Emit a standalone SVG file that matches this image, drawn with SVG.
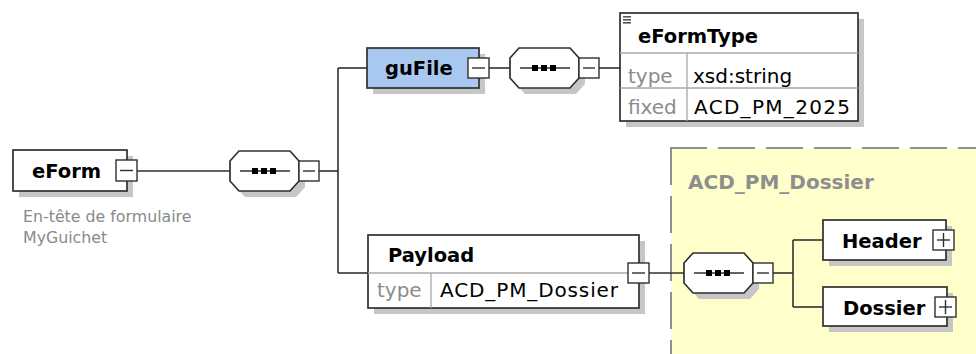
<svg xmlns="http://www.w3.org/2000/svg" width="976" height="354" viewBox="0 0 976 354">
<style>
.bg{fill:#ffffff}
.box{fill:#ffffff;stroke:#303030;stroke-width:1.7}
.blue{fill:#a8c8f0;stroke:#303030;stroke-width:1.7}
.sh{fill:#c6c6c6}
.div{stroke:#a8a8a8;stroke-width:1.3;fill:none}
.conn{stroke:#303030;stroke-width:1.6;fill:none}
.tog{fill:#ffffff;stroke:#303030;stroke-width:1.4}
.sign{stroke:#303030;stroke-width:1.4}
.b{font-family:"DejaVu Sans",sans-serif;font-weight:bold;font-size:19.5px;fill:#000}
.t{font-family:"DejaVu Sans",sans-serif;font-size:20px;fill:#000}
.g{font-family:"DejaVu Sans",sans-serif;font-size:20px;fill:#8c8c8c}
.ann{font-family:"DejaVu Sans",sans-serif;font-size:15.8px;fill:#8a8a8a}
.lbl{font-family:"DejaVu Sans",sans-serif;font-weight:bold;font-size:20px;fill:#8e8e8e}
.dash{stroke:#909090;stroke-width:2;stroke-dasharray:37 11;fill:none}
</style>
<defs>
<g id="seq">
<path class="sh" d="M15,6 H66 L75,16 V36 L66,46 H15 L6,36 V16 Z"/>
<path class="box" d="M9,0 H60 L69,10 V30 L60,40 H9 L0,30 V10 Z"/>
<line class="conn" x1="10" y1="20" x2="60" y2="20"/>
<rect x="22" y="17" width="6" height="6" fill="#000"/>
<rect x="31" y="17" width="6" height="6" fill="#000"/>
<rect x="40" y="17" width="6" height="6" fill="#000"/>
<rect class="tog" x="69" y="10" width="20" height="20"/>
<line class="sign" x1="73" y1="20" x2="85" y2="20"/>
</g>
</defs>
<rect class="bg" x="0" y="0" width="976" height="354"/>

<g id="typeArea">
<rect x="671" y="148" width="310" height="210" fill="#ffffcc"/>
<line class="dash" x1="670" y1="148" x2="976" y2="148"/>
<line class="dash" x1="671" y1="148" x2="671" y2="354"/>
<text class="lbl" x="688" y="189">ACD_PM_Dossier</text>
</g>

<g id="connectors">
<line class="conn" x1="137" y1="171" x2="230" y2="171"/>
<line class="conn" x1="319" y1="171" x2="338" y2="171"/>
<line class="conn" x1="338" y1="68" x2="338" y2="273"/>
<line class="conn" x1="338" y1="68" x2="367" y2="68"/>
<line class="conn" x1="338" y1="273" x2="368" y2="273"/>
<line class="conn" x1="489" y1="68" x2="510" y2="68"/>
<line class="conn" x1="599" y1="68" x2="620" y2="68"/>
<line class="conn" x1="649" y1="273" x2="684" y2="273"/>
<line class="conn" x1="773" y1="273" x2="793" y2="273"/>
<line class="conn" x1="793" y1="240" x2="793" y2="307"/>
<line class="conn" x1="793" y1="240" x2="823" y2="240"/>
<line class="conn" x1="793" y1="307" x2="823" y2="307"/>
</g>

<g id="eForm">
<rect class="sh" x="19" y="156" width="114" height="41"/>
<rect class="box" x="13" y="150" width="114" height="41"/>
<rect class="tog" x="116" y="160" width="21" height="21"/>
<line class="sign" x1="120" y1="170.5" x2="133" y2="170.5"/>
<text class="b" x="32" y="178">eForm</text>
<text class="ann" x="23" y="222">En-tête de formulaire</text>
<text class="ann" x="23" y="243">MyGuichet</text>
</g>

<g id="seq1"><use href="#seq" transform="translate(230,151)"/></g>

<g id="guFile">
<rect class="sh" x="373" y="54" width="112" height="40"/>
<rect class="blue" x="367" y="48" width="112" height="40"/>
<rect class="tog" x="468" y="58" width="21" height="20"/>
<line class="sign" x1="472" y1="68" x2="485" y2="68"/>
<text class="b" x="385" y="75">guFile</text>
</g>

<g id="seq2"><use href="#seq" transform="translate(510,48)"/></g>

<g id="eFormType">
<rect class="sh" x="626" y="19" width="238" height="108"/>
<rect class="box" x="620" y="13" width="238" height="108"/>
<line class="div" x1="620" y1="53" x2="858" y2="53"/>
<line class="div" x1="620" y1="88" x2="858" y2="88"/>
<line class="div" x1="687" y1="53" x2="687" y2="121"/>
<rect x="623" y="16" width="8" height="1.6" fill="#555"/>
<rect x="623" y="19" width="8" height="1.6" fill="#555"/>
<rect x="623" y="22" width="8" height="1.6" fill="#555"/>
<text class="b" x="638" y="43">eFormType</text>
<text class="g" x="628" y="83">type</text>
<text class="t" x="693" y="83">xsd:string</text>
<text class="g" x="628" y="114">fixed</text>
<text class="t" x="694" y="114" textLength="156">ACD_PM_2025</text>
</g>

<g id="Payload">
<rect class="sh" x="374" y="241" width="271" height="73"/>
<rect class="box" x="368" y="235" width="271" height="73"/>
<line class="div" x1="368" y1="273" x2="639" y2="273"/>
<line class="div" x1="431" y1="273" x2="431" y2="308"/>
<rect class="tog" x="628" y="263" width="21" height="20"/>
<line class="sign" x1="632" y1="273" x2="645" y2="273"/>
<text class="b" x="388" y="262">Payload</text>
<text class="g" x="377" y="297">type</text>
<text class="t" x="440" y="297" textLength="178">ACD_PM_Dossier</text>
</g>

<g id="seq3"><use href="#seq" transform="translate(684,253)"/></g>

<g id="Header">
<rect class="sh" x="829" y="226" width="123" height="40"/>
<rect class="box" x="823" y="220" width="123" height="40"/>
<rect class="tog" x="933" y="230" width="21" height="20"/>
<line class="sign" x1="937" y1="240" x2="950" y2="240"/>
<line class="sign" x1="943.5" y1="233" x2="943.5" y2="247"/>
<text class="b" x="842" y="248">Header</text>
</g>

<g id="Dossier">
<rect class="sh" x="829" y="293" width="124" height="39"/>
<rect class="box" x="823" y="287" width="124" height="39"/>
<rect class="tog" x="935" y="297" width="21" height="20"/>
<line class="sign" x1="939" y1="307" x2="952" y2="307"/>
<line class="sign" x1="945.5" y1="300" x2="945.5" y2="314"/>
<text class="b" x="843" y="315">Dossier</text>
</g>
</svg>
